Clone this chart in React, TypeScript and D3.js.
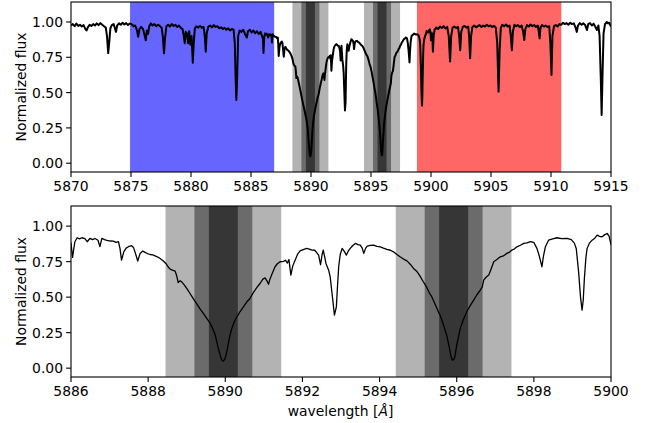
import React from 'react';
import * as d3 from 'd3';

// Spectrum: [wavelength (Å), normalized flux]
const spectrum: [number, number][] = [
  [5870.00, 0.975], [5870.15, 0.985], [5870.30, 0.970], [5870.45, 0.988], [5870.60, 0.972],
  [5870.75, 0.980], [5870.90, 0.968], [5871.05, 0.978], [5871.20, 0.950], [5871.30, 0.940],
  [5871.40, 0.962], [5871.55, 0.980], [5871.70, 0.972], [5871.85, 0.985], [5872.00, 0.975],
  [5872.15, 0.990], [5872.30, 0.978], [5872.45, 0.992], [5872.60, 0.980], [5872.75, 0.970],
  [5872.90, 0.960], [5873.00, 0.900], [5873.10, 0.780], [5873.18, 0.850], [5873.28, 0.955],
  [5873.40, 0.978], [5873.55, 0.985], [5873.65, 0.960], [5873.75, 0.930], [5873.85, 0.975],
  [5874.00, 0.990], [5874.15, 0.980], [5874.30, 0.995], [5874.45, 0.982], [5874.60, 0.992],
  [5874.75, 0.978], [5874.90, 0.990], [5875.05, 0.985], [5875.20, 0.970], [5875.35, 0.975],
  [5875.50, 0.940], [5875.60, 0.895], [5875.70, 0.950], [5875.85, 0.965], [5876.00, 0.950],
  [5876.15, 0.900], [5876.23, 0.870], [5876.32, 0.940], [5876.42, 0.915], [5876.52, 0.970],
  [5876.65, 0.990], [5876.80, 0.975], [5876.95, 0.985], [5877.10, 0.970], [5877.25, 0.980],
  [5877.40, 0.972], [5877.55, 0.960], [5877.65, 0.900], [5877.75, 0.778], [5877.83, 0.880],
  [5877.95, 0.970], [5878.10, 0.980], [5878.25, 0.968], [5878.40, 0.985], [5878.55, 0.972],
  [5878.70, 0.980], [5878.85, 0.965], [5879.00, 0.975], [5879.15, 0.958], [5879.30, 0.950],
  [5879.40, 0.900], [5879.48, 0.850], [5879.56, 0.930], [5879.66, 0.920], [5879.76, 0.850],
  [5879.85, 0.935], [5879.95, 0.840], [5880.05, 0.900], [5880.15, 0.712], [5880.23, 0.850],
  [5880.32, 0.955], [5880.45, 0.970], [5880.60, 0.960], [5880.75, 0.972], [5880.90, 0.958],
  [5881.05, 0.965], [5881.15, 0.900], [5881.23, 0.790], [5881.31, 0.920], [5881.45, 0.968],
  [5881.60, 0.975], [5881.75, 0.962], [5881.90, 0.978], [5882.05, 0.965], [5882.20, 0.970],
  [5882.35, 0.955], [5882.50, 0.962], [5882.65, 0.950], [5882.80, 0.958], [5882.95, 0.945],
  [5883.10, 0.955], [5883.25, 0.940], [5883.40, 0.950], [5883.55, 0.945], [5883.65, 0.850],
  [5883.72, 0.600], [5883.78, 0.448], [5883.85, 0.620], [5883.93, 0.900], [5884.05, 0.940],
  [5884.20, 0.930], [5884.35, 0.945], [5884.50, 0.915], [5884.65, 0.890], [5884.75, 0.935],
  [5884.90, 0.945], [5885.05, 0.925], [5885.20, 0.940], [5885.35, 0.920], [5885.50, 0.935],
  [5885.65, 0.915], [5885.80, 0.930], [5885.92, 0.900], [5886.00, 0.880], [5886.04, 0.780],
  [5886.10, 0.890], [5886.16, 0.918], [5886.22, 0.910], [5886.28, 0.918], [5886.36, 0.912],
  [5886.42, 0.890], [5886.49, 0.913], [5886.56, 0.905], [5886.62, 0.913], [5886.70, 0.900],
  [5886.75, 0.855], [5886.80, 0.913], [5886.87, 0.905], [5886.93, 0.900], [5887.02, 0.895],
  [5887.10, 0.894], [5887.17, 0.885], [5887.23, 0.890], [5887.27, 0.843], [5887.31, 0.760],
  [5887.37, 0.820], [5887.43, 0.845], [5887.49, 0.855], [5887.57, 0.862], [5887.62, 0.850],
  [5887.68, 0.800], [5887.73, 0.754], [5887.79, 0.807], [5887.86, 0.824], [5887.92, 0.815],
  [5887.98, 0.807], [5888.05, 0.800], [5888.12, 0.797], [5888.18, 0.790], [5888.25, 0.782],
  [5888.31, 0.772], [5888.38, 0.758], [5888.46, 0.737], [5888.52, 0.712], [5888.57, 0.697],
  [5888.63, 0.690], [5888.70, 0.683], [5888.74, 0.650], [5888.78, 0.603], [5888.83, 0.615],
  [5888.87, 0.608], [5888.94, 0.585], [5889.00, 0.561], [5889.08, 0.528], [5889.17, 0.490],
  [5889.26, 0.452], [5889.35, 0.415], [5889.44, 0.382], [5889.52, 0.350], [5889.61, 0.315],
  [5889.68, 0.275], [5889.74, 0.232], [5889.78, 0.185], [5889.82, 0.138], [5889.87, 0.090],
  [5889.91, 0.056], [5889.95, 0.049], [5889.99, 0.065], [5890.02, 0.092], [5890.05, 0.130],
  [5890.08, 0.174], [5890.12, 0.230], [5890.17, 0.280], [5890.25, 0.338], [5890.32, 0.370],
  [5890.38, 0.397], [5890.47, 0.432], [5890.56, 0.467], [5890.64, 0.490], [5890.73, 0.533],
  [5890.82, 0.568], [5890.90, 0.596], [5890.97, 0.625], [5891.03, 0.636], [5891.08, 0.615],
  [5891.12, 0.590], [5891.15, 0.620], [5891.20, 0.655], [5891.29, 0.714], [5891.35, 0.735],
  [5891.42, 0.749], [5891.51, 0.752], [5891.56, 0.760], [5891.61, 0.740], [5891.65, 0.765],
  [5891.70, 0.655], [5891.75, 0.720], [5891.81, 0.760], [5891.88, 0.805], [5891.94, 0.825],
  [5892.02, 0.835], [5892.11, 0.843], [5892.18, 0.838], [5892.25, 0.831], [5892.32, 0.830],
  [5892.38, 0.810], [5892.42, 0.796], [5892.47, 0.728], [5892.51, 0.800], [5892.54, 0.831],
  [5892.58, 0.780], [5892.61, 0.737], [5892.68, 0.690], [5892.72, 0.643], [5892.77, 0.520],
  [5892.83, 0.373], [5892.88, 0.432], [5892.91, 0.580], [5892.94, 0.714], [5892.98, 0.800],
  [5893.03, 0.843], [5893.09, 0.820], [5893.14, 0.796], [5893.19, 0.825], [5893.24, 0.843],
  [5893.30, 0.862], [5893.37, 0.878], [5893.44, 0.870], [5893.50, 0.866], [5893.55, 0.845],
  [5893.59, 0.808], [5893.64, 0.845], [5893.68, 0.859], [5893.76, 0.865], [5893.85, 0.866],
  [5893.93, 0.858], [5894.02, 0.854], [5894.10, 0.845], [5894.19, 0.836], [5894.28, 0.830],
  [5894.36, 0.819], [5894.45, 0.800], [5894.53, 0.784], [5894.62, 0.768], [5894.71, 0.755],
  [5894.80, 0.730], [5894.88, 0.702], [5894.97, 0.680], [5895.05, 0.648], [5895.13, 0.610],
  [5895.22, 0.570], [5895.30, 0.525], [5895.35, 0.505], [5895.44, 0.450], [5895.52, 0.400],
  [5895.57, 0.373], [5895.65, 0.310], [5895.74, 0.232], [5895.79, 0.170], [5895.83, 0.115],
  [5895.86, 0.075], [5895.89, 0.056], [5895.94, 0.068], [5895.97, 0.110], [5896.00, 0.162],
  [5896.05, 0.225], [5896.09, 0.279], [5896.17, 0.340], [5896.26, 0.397], [5896.35, 0.440],
  [5896.44, 0.479], [5896.52, 0.515], [5896.61, 0.549], [5896.66, 0.570], [5896.70, 0.620],
  [5896.76, 0.640], [5896.83, 0.655], [5896.88, 0.690], [5896.96, 0.749], [5897.04, 0.765],
  [5897.13, 0.784], [5897.21, 0.790], [5897.30, 0.808], [5897.36, 0.815], [5897.43, 0.831],
  [5897.50, 0.840], [5897.56, 0.854], [5897.65, 0.865], [5897.74, 0.878], [5897.82, 0.882],
  [5897.91, 0.890], [5898.00, 0.885], [5898.08, 0.843], [5898.14, 0.790], [5898.21, 0.714],
  [5898.25, 0.790], [5898.30, 0.855], [5898.38, 0.901], [5898.49, 0.910], [5898.60, 0.918],
  [5898.72, 0.912], [5898.86, 0.913], [5898.97, 0.905], [5899.05, 0.880], [5899.10, 0.840],
  [5899.16, 0.678], [5899.21, 0.500], [5899.25, 0.408], [5899.28, 0.480], [5899.31, 0.631],
  [5899.35, 0.780], [5899.38, 0.843], [5899.44, 0.880], [5899.51, 0.901], [5899.58, 0.915],
  [5899.64, 0.937], [5899.70, 0.928], [5899.77, 0.925], [5899.84, 0.940], [5899.90, 0.948],
  [5899.95, 0.930], [5900.00, 0.870], [5900.08, 0.920], [5900.12, 0.880], [5900.16, 0.790],
  [5900.22, 0.900], [5900.30, 0.945], [5900.45, 0.960], [5900.60, 0.950], [5900.75, 0.968],
  [5900.90, 0.958], [5901.05, 0.970], [5901.20, 0.955], [5901.35, 0.965], [5901.48, 0.900],
  [5901.59, 0.720], [5901.68, 0.900], [5901.80, 0.960], [5901.95, 0.968], [5902.10, 0.958],
  [5902.25, 0.965], [5902.35, 0.900], [5902.43, 0.800], [5902.52, 0.930], [5902.65, 0.965],
  [5902.80, 0.972], [5902.95, 0.960], [5903.10, 0.968], [5903.18, 0.900], [5903.26, 0.743],
  [5903.34, 0.900], [5903.45, 0.965], [5903.60, 0.975], [5903.75, 0.962], [5903.90, 0.970],
  [5904.05, 0.978], [5904.20, 0.965], [5904.35, 0.975], [5904.50, 0.968], [5904.65, 0.980],
  [5904.80, 0.970], [5904.95, 0.975], [5905.10, 0.965], [5905.25, 0.972], [5905.40, 0.960],
  [5905.52, 0.850], [5905.63, 0.507], [5905.72, 0.800], [5905.82, 0.960], [5905.95, 0.980],
  [5906.10, 0.970], [5906.25, 0.982], [5906.40, 0.968], [5906.55, 0.975], [5906.65, 0.900],
  [5906.74, 0.800], [5906.82, 0.930], [5906.95, 0.980], [5907.10, 0.970], [5907.25, 0.978],
  [5907.40, 0.965], [5907.55, 0.975], [5907.68, 0.930], [5907.77, 0.873], [5907.86, 0.950],
  [5908.00, 0.978], [5908.15, 0.968], [5908.30, 0.982], [5908.45, 0.970], [5908.60, 0.978],
  [5908.75, 0.965], [5908.90, 0.975], [5909.00, 0.920], [5909.05, 0.884], [5909.12, 0.960],
  [5909.25, 0.978], [5909.40, 0.968], [5909.55, 0.975], [5909.70, 0.965], [5909.85, 0.970],
  [5909.95, 0.850], [5910.04, 0.625], [5910.12, 0.900], [5910.25, 0.970], [5910.40, 0.978],
  [5910.55, 0.968], [5910.70, 0.985], [5910.85, 0.980], [5911.00, 0.995], [5911.15, 0.985],
  [5911.30, 0.992], [5911.45, 0.980], [5911.60, 0.995], [5911.75, 0.985], [5911.90, 0.990],
  [5912.05, 0.960], [5912.15, 0.930], [5912.25, 0.975], [5912.40, 0.992], [5912.55, 0.980],
  [5912.70, 0.990], [5912.85, 0.978], [5913.00, 0.943], [5913.10, 0.985], [5913.25, 0.992],
  [5913.40, 0.975], [5913.55, 0.988], [5913.70, 0.965], [5913.83, 0.943], [5913.95, 0.975],
  [5914.05, 0.900], [5914.15, 0.600], [5914.22, 0.342], [5914.30, 0.650], [5914.38, 0.920],
  [5914.50, 0.985], [5914.65, 1.000], [5914.75, 0.990], [5914.85, 0.995], [5915.00, 0.967],
];

const topXTicks = [5870, 5875, 5880, 5885, 5890, 5895, 5900, 5905, 5910, 5915];
const bottomXTicks = [5886, 5888, 5890, 5892, 5894, 5896, 5898, 5900];
const yTicks = [0, 0.25, 0.5, 0.75, 1.0];

// Continuum windows (top panel)
const blueWindow = [5874.92, 5886.93];
const redWindow = [5898.83, 5910.86];
// Na D line centres and integration half-widths
const lineCentres = [5889.95, 5895.92];
const halfWidths = [1.5, 0.75, 0.375];
const bandColors = ['#b3b3b3', '#6b6b6b', '#363636'];

const FONT = '"DejaVu Sans", sans-serif';
const FS = 13.9;
const LEFT = 71;
const RIGHT = 611;

interface PanelProps {
  top: number;
  bottom: number;
  xDomain: [number, number];
  xTicks: number[];
  showWindows: boolean;
  lineWidth: number;
  id: string;
}

function Panel({ top, bottom, xDomain, xTicks, showWindows, lineWidth, id }: PanelProps) {
  const x = d3.scaleLinear().domain(xDomain).range([LEFT, RIGHT]);
  const y = d3.scaleLinear().domain([-0.0622, 1.1415]).range([bottom, top]);
  const line = d3
    .line<[number, number]>()
    .x((d) => x(d[0]))
    .y((d) => y(d[1]));
  const data = spectrum.filter((d) => d[0] >= xDomain[0] - 0.3 && d[0] <= xDomain[1] + 0.3);
  const h = bottom - top;
  return (
    <g>
      <defs>
        <clipPath id={id}>
          <rect x={LEFT} y={top} width={RIGHT - LEFT} height={h} />
        </clipPath>
      </defs>
      <g clipPath={`url(#${id})`}>
        {showWindows && (
          <>
            <rect x={x(blueWindow[0])} y={top} width={x(blueWindow[1]) - x(blueWindow[0])} height={h} fill="#6666ff" />
            <rect x={x(redWindow[0])} y={top} width={x(redWindow[1]) - x(redWindow[0])} height={h} fill="#ff6666" />
          </>
        )}
        {lineCentres.map((c) =>
          halfWidths.map((w, i) => (
            <rect key={`${c}-${w}`} x={x(c - w)} y={top} width={x(c + w) - x(c - w)} height={h} fill={bandColors[i]} />
          ))
        )}
        <path d={line(data) || ''} fill="none" stroke="#000" strokeWidth={lineWidth} strokeLinejoin="round" />
      </g>
      <rect x={LEFT} y={top} width={RIGHT - LEFT} height={h} fill="none" stroke="#000" strokeWidth={1.1} />
      {xTicks.map((t) => (
        <g key={t}>
          <line x1={x(t)} x2={x(t)} y1={bottom} y2={bottom + 4.9} stroke="#000" strokeWidth={1.1} />
          <text x={x(t)} y={bottom + 19} textAnchor="middle" fontFamily={FONT} fontSize={FS} fill="#000">
            {t}
          </text>
        </g>
      ))}
      {yTicks.map((t) => (
        <g key={t}>
          <line x1={LEFT - 4.9} x2={LEFT} y1={y(t)} y2={y(t)} stroke="#000" strokeWidth={1.1} />
          <text x={LEFT - 8} y={y(t) + 5.1} textAnchor="end" fontFamily={FONT} fontSize={FS} fill="#000">
            {t.toFixed(2)}
          </text>
        </g>
      ))}
      <text
        transform={`translate(26, ${(top + bottom) / 2}) rotate(-90)`}
        textAnchor="middle"
        fontFamily={FONT}
        fontSize={FS}
        fill="#000"
      >
        Normalized flux
      </text>
    </g>
  );
}

export default function App() {
  return (
    <svg width={649} height={423} style={{ position: 'absolute', left: 0, top: 0, background: '#fff' }}>
      <rect x={0} y={0} width={649} height={423} fill="#fff" />
      <Panel top={2} bottom={172} xDomain={[5870, 5915]} xTicks={topXTicks} showWindows={true} lineWidth={2.0} id="clipTop" />
      <Panel top={206} bottom={377} xDomain={[5886, 5900]} xTicks={bottomXTicks} showWindows={false} lineWidth={1.3} id="clipBottom" />
      <text x={340.5} y={415.5} textAnchor="middle" fontFamily={FONT} fontSize={FS} fill="#000">
        wavelength [<tspan fontStyle="italic">Å</tspan>]
      </text>
    </svg>
  );
}
